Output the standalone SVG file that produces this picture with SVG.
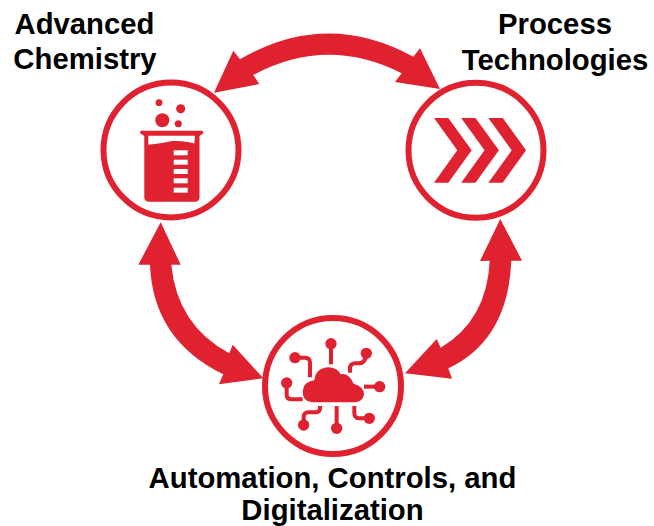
<svg xmlns="http://www.w3.org/2000/svg" width="654" height="526" viewBox="0 0 654 526">
<style>
.ring{fill:#fff;stroke:#df2130;stroke-width:6}
.f{fill:#df2130}
.w{fill:#fff}
.c{fill:none;stroke:#df2130;stroke-width:12}
text{font-family:"Liberation Sans",Arial,sans-serif;font-weight:bold;font-size:29.3px;fill:#000;text-anchor:middle}
</style>
<rect width="654" height="526" fill="#fff"/>
<g id="connectors" class="f">
<path d="M214 92.7L233.3 50.7L240 59.3Q326 9 413.3 56.7L420 48.3L440 89L395 82L401.700 73.300Q327 35.500 253.300 75L259.300 84Z"/>
<path d="M160.700 222.300L180.700 264.700L171.300 264.700Q177 325 229.300 353.300L232.700 344.700L263.300 378.300L219 384.300L223.300 374.300Q153 340 150 264.700L138.300 264.700Z"/>
<path d="M500.300 219L522 260.700L511.300 260.700Q508 340 448.300 368.300L452 378.700L405 373.300L436.700 339L440.700 347.700Q487 320 489.700 260.700L480 261Z"/>
</g>
<g id="advanced-chemistry">
<circle class="ring" cx="171" cy="150" r="67.5"/>
<circle class="f" cx="159" cy="102.7" r="3.4"/>
<circle class="f" cx="180.7" cy="108.7" r="4.5"/>
<circle class="f" cx="162.3" cy="120.3" r="7"/>
<circle class="f" cx="178.3" cy="123.7" r="3.5"/>
<path class="f" d="M141.500 130.700H201.500Q204 131 203 133.500L199.500 136V197Q199.500 201.700 195 201.700H149Q144.300 201.700 144.300 197V136L140.500 133.500Q139.500 131 141.500 130.700Z"/>
<path class="w" d="M148.300 135.700H195L194.300 143.500Q186 140.500 172 141Q160 144 148.300 144.800Z"/>
<g class="w">
<rect x="173.700" y="150.300" width="14" height="5"/>
<rect x="173.700" y="159.700" width="14" height="5"/>
<rect x="173.700" y="169" width="14" height="5"/>
<rect x="173.700" y="178.300" width="14" height="5"/>
<rect x="173.700" y="187.700" width="14" height="5"/>
</g>
<text x="84.500" y="34.300">Advanced</text>
<text x="85" y="69">Chemistry</text>
</g>
<g id="process-technologies">
<circle class="ring" cx="476" cy="150.300" r="67.500"/>
<path class="f" d="M434 118H448.300L471.700 150.300L448.300 182.700H434L457.300 150.300Z"/>
<path class="f" d="M461.200 118H475.500L498.900 150.300L475.500 182.700H461.200L484.500 150.300Z"/>
<path class="f" d="M488.400 118H502.700L526.100 150.300L502.700 182.700H488.400L511.700 150.300Z"/>
<text x="555" y="34.300">Process</text>
<text x="555" y="70.300">Technologies</text>
</g>
<g id="automation-controls-digitalization">
<circle class="ring" cx="333" cy="386" r="68"/>
<g transform="translate(255 305) scale(.3333)">
<path class="f" d="M172 292Q143 290 143 260Q145 230 178 226Q182 188 222 187Q250 190 256 208Q282 203 296 236Q327 245 327 268Q325 290 300 292Z"/>
<g class="c">
<path d="M228 116V178"/>
<path d="M334 145Q333 174 312 175H300Q285 177 285 190V203"/>
<path d="M120 158H150Q165 158 165 172V217"/>
<path d="M95 234V270Q96 283 110 283H143"/>
<path d="M374 245H327"/>
<path d="M146 360V336Q147 322 160 322H183Q195 321 195 310V303"/>
<path d="M245 370V303"/>
<path d="M343 340H312Q298 339 298 325V303"/>
</g>
<g class="f">
<circle cx="228" cy="116" r="17"/>
<circle cx="334" cy="145" r="17"/>
<circle cx="120" cy="158" r="17"/>
<circle cx="95" cy="234" r="17"/>
<circle cx="374" cy="245" r="17"/>
<circle cx="146" cy="360" r="17"/>
<circle cx="245" cy="370" r="17"/>
<circle cx="343" cy="340" r="17"/>
</g>
</g>
<text x="332.500" y="487.700">Automation, Controls, and</text>
<text x="332.500" y="519.500">Digitalization</text>
</g>
</svg>
